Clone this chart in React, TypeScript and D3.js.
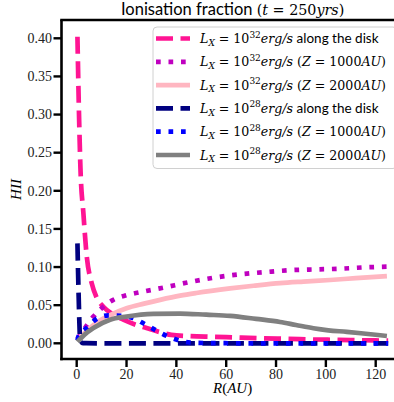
import React from 'react';
import * as d3 from 'd3';

const W = 394;
const H = 402;

// Axis ticks
const R_TICKS = [0, 20, 40, 60, 80, 100, 120];
const HII_TICKS = [0, 0.05, 0.1, 0.15, 0.2, 0.25, 0.3, 0.35, 0.4];

// L_X = 1e32 erg/s, along the disk
const r32Disk = [0.3, 1, 1.5, 2.7, 4, 6, 8, 10.7, 14, 18.7, 24, 28, 33, 38, 45, 55, 65, 75, 85, 95, 105, 115, 125];
const h32Disk = [0.402, 0.29, 0.23, 0.17, 0.115, 0.079, 0.06, 0.048, 0.039, 0.031, 0.024, 0.02, 0.015, 0.011, 0.0095, 0.0085, 0.0075, 0.0065, 0.0058, 0.005, 0.0045, 0.004, 0.0035];

// L_X = 1e32 erg/s, Z = 1000 AU
const r32Z1000 = [0.3, 3.3, 6.7, 10.7, 14.7, 20, 27, 34.8, 44.8, 55, 65.6, 76, 86.3, 97, 107, 115, 125];
const h32Z1000 = [0.006, 0.02, 0.035, 0.048, 0.057, 0.063, 0.068, 0.073, 0.08, 0.086, 0.0905, 0.0935, 0.096, 0.097, 0.098, 0.0995, 0.1005];

// L_X = 1e32 erg/s, Z = 2000 AU
const r32Z2000 = [0.3, 3, 6.7, 13.4, 20, 27, 33.5, 41.5, 48, 61.6, 71, 81.6, 91, 101.7, 112, 124.5];
const h32Z2000 = [0.003, 0.013, 0.024, 0.037, 0.046, 0.052, 0.057, 0.0625, 0.066, 0.072, 0.0755, 0.079, 0.081, 0.083, 0.0855, 0.088];

// L_X = 1e28 erg/s, along the disk
const r28Disk = [0.3, 0.8, 1.4, 2.5, 10, 30, 60, 90, 125];
const h28Disk = [0.131, 0.06, 0.004, 0.0002, 0, 0, 0, 0, 0];

// L_X = 1e28 erg/s, Z = 1000 AU
const r28Z1000 = [0.3, 0.7, 4, 8, 12.7, 18, 22.7, 27.4, 32, 36.8, 41.5, 46.7, 55, 70, 90, 110, 125];
const h28Z1000 = [0.004, 0.009, 0.02, 0.032, 0.0365, 0.036, 0.033, 0.025, 0.0166, 0.0087, 0.0034, 0.0008, 0.0002, 0, 0, 0, 0];

// L_X = 1e28 erg/s, Z = 2000 AU
const r28Z2000 = [0.3, 3, 6.7, 13.4, 20, 30.8, 41.5, 52, 61.6, 72, 81.6, 88, 95, 101, 108.4, 116, 124.5];
const h28Z2000 = [0.002, 0.011, 0.02, 0.031, 0.035, 0.0385, 0.039, 0.0375, 0.036, 0.032, 0.028, 0.024, 0.0197, 0.017, 0.015, 0.0125, 0.0096];

// Legend text pieces
const seriesExp = ['32', '32', '32', '28', '28', '28'];
const seriesWhere = ['disk', '1000', '2000', 'disk', '1000', '2000'];

const DASHED = '17,7.5';
const DOTTED = '4.7,7.8';

const series = [
  { r: r32Disk, h: h32Disk, color: '#FF1493', dash: DASHED },
  { r: r32Z1000, h: h32Z1000, color: '#BF00BF', dash: DOTTED },
  { r: r32Z2000, h: h32Z2000, color: '#FFB6C1', dash: null },
  { r: r28Disk, h: h28Disk, color: '#000080', dash: DASHED },
  { r: r28Z1000, h: h28Z1000, color: '#0000FF', dash: DOTTED },
  { r: r28Z2000, h: h28Z2000, color: '#808080', dash: null },
];

const LEFT = 61.5;
const TOP = 20;
const BOTTOM = 359;

const x = d3.scaleLinear().domain([0, 120]).range([76.7, 375.7]);
const y = d3.scaleLinear().domain([0, 0.4]).range([343.3, 38.3]);
const RIGHT = x(131.25);

const SERIF = '"Liberation Serif", "DejaVu Serif", serif';
const MATH = '"DejaVu Serif", "Liberation Serif", serif';
const SANS = 'Lato, "Noto Sans", sans-serif';

function LegendLabel({ tx, ty, exp, where }: { tx: number; ty: number; exp: string; where: string }) {
  const fs = 12.6;
  const small = 9;
  return (
    <text x={tx} y={ty} fontFamily={MATH} fontSize={fs} fill="#000">
      <tspan fontStyle="italic">L</tspan>
      <tspan fontStyle="italic" fontSize={small} dy={2.8}>X</tspan>
      <tspan dy={-2.8}>{' = 10'}</tspan>
      <tspan fontSize={small} dy={-5.5}>{exp}</tspan>
      <tspan dy={5.5} fontStyle="italic">erg/s</tspan>
      {where === 'disk' ? (
        <tspan fontFamily={SANS} fontSize={13.5}>{' along the disk'}</tspan>
      ) : (
        <>
          <tspan>{' ('}</tspan>
          <tspan fontStyle="italic">Z</tspan>
          <tspan>{' = ' + where}</tspan>
          <tspan fontStyle="italic">AU</tspan>
          <tspan>)</tspan>
        </>
      )}
    </text>
  );
}

export default function App() {
  const line = d3
    .line<[number, number]>()
    .x((d) => x(d[0]))
    .y((d) => y(d[1]))
    .curve(d3.curveMonotoneX);

  const legendY = (i: number) => 38.5 + i * 23.3;

  return (
    <svg
      width={W}
      height={H}
      viewBox={`0 0 ${W} ${H}`}
      style={{ position: 'absolute', left: 0, top: 0, background: '#fff' }}
    >
      <defs>
        <clipPath id="plotArea">
          <rect x={LEFT} y={TOP} width={RIGHT - LEFT} height={BOTTOM - TOP} />
        </clipPath>
      </defs>

      {/* Title */}
      <text x={(LEFT + RIGHT) / 2} y={15} textAnchor="middle" fontSize={16.5}>
        <tspan fontFamily={SANS}>{'Ionisation fraction '}</tspan>
        <tspan fontFamily={MATH} fontSize={14.3}>(</tspan>
        <tspan fontFamily={MATH} fontSize={14.3} fontStyle="italic">t</tspan>
        <tspan fontFamily={MATH} fontSize={14.3}>{' = 250'}</tspan>
        <tspan fontFamily={MATH} fontSize={14.3} fontStyle="italic">yrs</tspan>
        <tspan fontFamily={MATH} fontSize={14.3}>)</tspan>
      </text>

      {/* Curves */}
      <g clipPath="url(#plotArea)">
        {series.map((s, i) => (
          <path
            key={i}
            d={line(s.r.map((r, k) => [r, s.h[k]] as [number, number])) || ''}
            fill="none"
            stroke={s.color}
            strokeWidth={4.7}
            strokeDasharray={s.dash || undefined}
            strokeLinecap="butt"
            strokeLinejoin="round"
          />
        ))}
      </g>

      {/* Spines */}
      <g stroke="#000" strokeWidth={2.6} fill="none">
        <line x1={LEFT} y1={TOP} x2={LEFT} y2={BOTTOM + 1.3} />
        <line x1={LEFT - 1.3} y1={BOTTOM} x2={RIGHT} y2={BOTTOM} />
        <line x1={LEFT - 1.3} y1={TOP} x2={RIGHT} y2={TOP} />
        <line x1={RIGHT} y1={TOP} x2={RIGHT} y2={BOTTOM} />
      </g>

      {/* Y axis ticks */}
      {HII_TICKS.map((t) => (
        <g key={'y' + t}>
          <line x1={LEFT - 8} x2={LEFT} y1={y(t)} y2={y(t)} stroke="#000" strokeWidth={2.4} />
          <text
            x={52}
            y={y(t) + 4.8}
            textAnchor="end"
            fontFamily={SERIF}
            fontSize={14}
            fill="#222"
          >
            {t.toFixed(2)}
          </text>
        </g>
      ))}

      {/* X axis ticks */}
      {R_TICKS.map((t) => (
        <g key={'x' + t}>
          <line x1={x(t)} x2={x(t)} y1={BOTTOM} y2={BOTTOM + 8} stroke="#000" strokeWidth={2.4} />
          <text x={x(t)} y={378.5} textAnchor="middle" fontFamily={SERIF} fontSize={14} fill="#222">
            {t}
          </text>
        </g>
      ))}

      {/* Axis labels */}
      <text x={(LEFT + RIGHT) / 2} y={393} textAnchor="middle" fontFamily={SERIF} fontStyle="italic" fontSize={15}>
        R<tspan fontStyle="normal">(</tspan>AU<tspan fontStyle="normal">)</tspan>
      </text>
      <text
        transform={`translate(21, ${(TOP + BOTTOM) / 2}) rotate(-90)`}
        textAnchor="middle"
        fontFamily={SERIF}
        fontStyle="italic"
        fontSize={15}
      >
        HII
      </text>

      {/* Legend */}
      <rect
        x={153}
        y={27}
        width={244}
        height={141.5}
        rx={4}
        fill="#fff"
        fillOpacity={0.8}
        stroke="#d0d0d0"
        strokeWidth={1}
      />
      {series.map((s, i) => (
        <g key={'lg' + i}>
          <line
            x1={156}
            x2={190}
            y1={legendY(i)}
            y2={legendY(i)}
            stroke={s.color}
            strokeWidth={4.7}
            strokeDasharray={s.dash || undefined}
          />
          <LegendLabel tx={200} ty={legendY(i) + 4.5} exp={seriesExp[i]} where={seriesWhere[i]} />
        </g>
      ))}
    </svg>
  );
}
